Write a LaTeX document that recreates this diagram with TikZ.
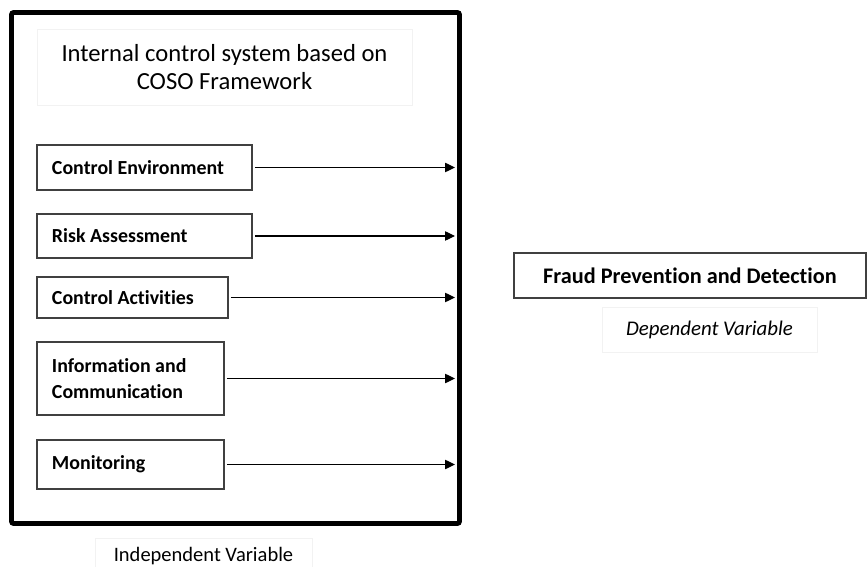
\documentclass[tikz,border=0pt]{standalone}
\usepackage{fontspec}
\setmainfont{Carlito}[Ligatures=CommonOff]
\usetikzlibrary{arrows.meta}
\usepackage{xcolor}

\begin{document}
\begin{tikzpicture}[x=0.03cm,y=-0.03cm]
    \useasboundingbox (0,0) rectangle (867,567);

    % outer frame of the independent side
    \draw [line width=4.2pt,rounded corners=2pt] (11.5,12.5) rectangle (459.5,523.5);

    \begin{scope}[every node/.style={draw=black!5,thin,align=center}]
      \node (title) [minimum width=11.25cm,minimum height=2.28cm,font=\fontsize{21}{24}\selectfont] at (224.5,67)
        {Internal control system based on\\COSO Framework};
      \node (indep) [minimum width=6.5cm,minimum height=1.08cm,font=\fontsize{17.5}{20}\selectfont] at (203.5,556)
        {Independent Variable};
      \node (dep) [minimum width=6.45cm,minimum height=1.35cm,font=\fontsize{17.8}{20}\selectfont\itshape] at (709.5,329.5)
        {Dependent Variable};
    \end{scope}

    \begin{scope}[every node/.style={draw=black!75,line width=0.9pt,align=left,inner xsep=0.45cm,
        font=\fontsize{17}{22}\selectfont\bfseries,execute at begin node={\spaceskip=0pt\xspaceskip=0pt\relax}}]
      \node (ce) [minimum width=6.45cm,minimum height=1.35cm,text width=5.55cm] at (144.5,167.5) {Control Environment};
      \node (ra) [minimum width=6.45cm,minimum height=1.32cm,text width=5.55cm] at (144.5,236) {Risk Assessment};
      \node (ca) [minimum width=5.73cm,minimum height=1.23cm,text width=4.83cm] at (132.5,297.5) {Control Activities};
      \node (ic) [minimum width=5.61cm,minimum height=2.19cm,text width=4.71cm] at (130.5,378.5) {Information and\\Communication};
      \node (mo) [minimum width=5.61cm,minimum height=1.47cm,text width=4.71cm] at (130.5,464.5) {Monitoring};
      \node (fpd) [minimum width=10.56cm,minimum height=1.35cm,align=center,font=\fontsize{19}{22}\selectfont\bfseries] at (690,275.5)
        {Fraud Prevention and Detection};
    \end{scope}

    \coordinate (edge) at (455,0);

    \begin{scope}[>={Triangle[length=8.5pt,width=8pt]},every path/.style={line width=0.9pt,shorten <=2pt}]
      \draw [->] (ce) -- (ce -| edge);
      \draw [->] (ra) -- (ra -| edge);
      \draw [->] (ca) -- (ca -| edge);
      \draw [->] (ic) -- (ic -| edge);
      \draw [->] (mo) -- (mo -| edge);
    \end{scope}
  \end{tikzpicture}
\end{document}
